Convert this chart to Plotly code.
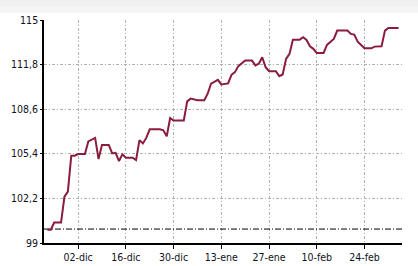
import plotly.graph_objects as go
import pandas as pd

# Data (vertices of the series; dates as day offsets from 2019-11-22)
day_offsets = [1, 2, 3, 5, 6, 7, 8, 9, 10, 12, 13, 15, 16, 17, 19, 20, 21, 22, 23, 24,
               26, 27, 28, 29, 30, 31, 34, 35, 36, 37, 38, 41, 42, 43, 45, 47, 48, 49,
               51, 52, 54, 55, 56, 57, 59, 61, 62, 63, 64, 65, 66, 68, 69, 70, 71, 72,
               73, 75, 76, 77, 78, 79, 80, 82, 83, 85, 86, 89, 90, 91, 92, 93, 94, 96,
               97, 99, 100, 101, 104]
values = [99.95, 99.95, 100.47, 100.47, 102.33, 102.69, 105.26, 105.26, 105.38, 105.38,
          106.29, 106.54, 105.02, 106.04, 106.04, 105.43, 105.47, 104.88, 105.36, 105.12,
          105.12, 104.95, 106.38, 106.14, 106.54, 107.16, 107.16, 107.09, 106.66, 107.97,
          107.79, 107.79, 109.16, 109.36, 109.24, 109.24, 109.71, 110.43, 110.71, 110.38,
          110.45, 111.07, 111.26, 111.69, 112.09, 112.09, 111.74, 111.86, 112.33, 111.61,
          111.33, 111.33, 110.97, 111.09, 112.21, 112.57, 113.59, 113.59, 113.76, 113.57,
          113.11, 112.93, 112.64, 112.64, 113.21, 113.64, 114.24, 114.24, 114.0, 113.95,
          113.45, 113.21, 112.97, 112.97, 113.09, 113.11, 114.24, 114.43, 114.43]
start_date = "2019-11-22"
end_date = "2020-03-06"
reference_level = 100

x_tick_dates = ["2019-12-02", "2019-12-16", "2019-12-30", "2020-01-13",
                "2020-01-27", "2020-02-10", "2020-02-24"]
x_tick_labels = ["02-dic", "16-dic", "30-dic", "13-ene", "27-ene", "10-feb", "24-feb"]
y_tick_vals = [99, 102.2, 105.4, 108.6, 111.8, 115]
y_tick_labels = ["99", "102,2", "105,4", "108,6", "111,8", "115"]

dates = pd.Timestamp(start_date) + pd.to_timedelta(day_offsets, unit="D")

fig = go.Figure()
fig.add_trace(go.Scatter(
    x=[start_date, end_date], y=[reference_level, reference_level],
    mode="lines", line=dict(color="black", width=1, dash="6px,2px,1px,2px"),
    hoverinfo="skip", showlegend=False))
fig.add_trace(go.Scatter(
    x=dates, y=values, mode="lines",
    line=dict(color="#8a1c3e", width=2), showlegend=False))

grid_color = "#a8b8a8"
axis_font = dict(family="DejaVu Sans Condensed, Liberation Sans, sans-serif",
                 size=10.5, color="#111122")

fig.update_layout(
    width=418, height=266,
    margin=dict(l=44, r=16, t=20, b=23, autoexpand=False),
    paper_bgcolor="white", plot_bgcolor="white",
    showlegend=False,
    xaxis=dict(
        type="date", range=[start_date, end_date], automargin=False,
        tickvals=x_tick_dates, ticktext=x_tick_labels,
        showgrid=True, gridcolor=grid_color, griddash="3px,2px,1px,2px", gridwidth=1,
        showline=True, linecolor="black", linewidth=1.5,
        ticks="outside", ticklen=4, tickcolor="black",
        tickfont=axis_font, zeroline=False,
    ),
    yaxis=dict(
        range=[99, 115], automargin=False,
        tickvals=y_tick_vals, ticktext=y_tick_labels,
        showgrid=True, gridcolor=grid_color, griddash="3px,2px,1px,2px", gridwidth=1,
        showline=True, linecolor="black", linewidth=1.5,
        ticks="outside", ticklen=2, tickcolor="black", ticklabelstandoff=0,
        tickfont=axis_font, zeroline=False,
    ),
    shapes=[
        dict(type="rect", xref="paper", yref="paper", x0=-0.2, x1=1.1,
             y0=1 + 7 / 223, y1=1 + 20 / 223, fillcolor="#f5f5f5",
             line=dict(width=0), layer="below"),
        dict(type="rect", xref="paper", yref="paper", x0=-0.2, x1=1.1,
             y0=1 + 14 / 223, y1=1 + 20 / 223, fillcolor="#f0f0f0",
             line=dict(width=0), layer="below"),
    ],
)

fig.write_html("out.html")
